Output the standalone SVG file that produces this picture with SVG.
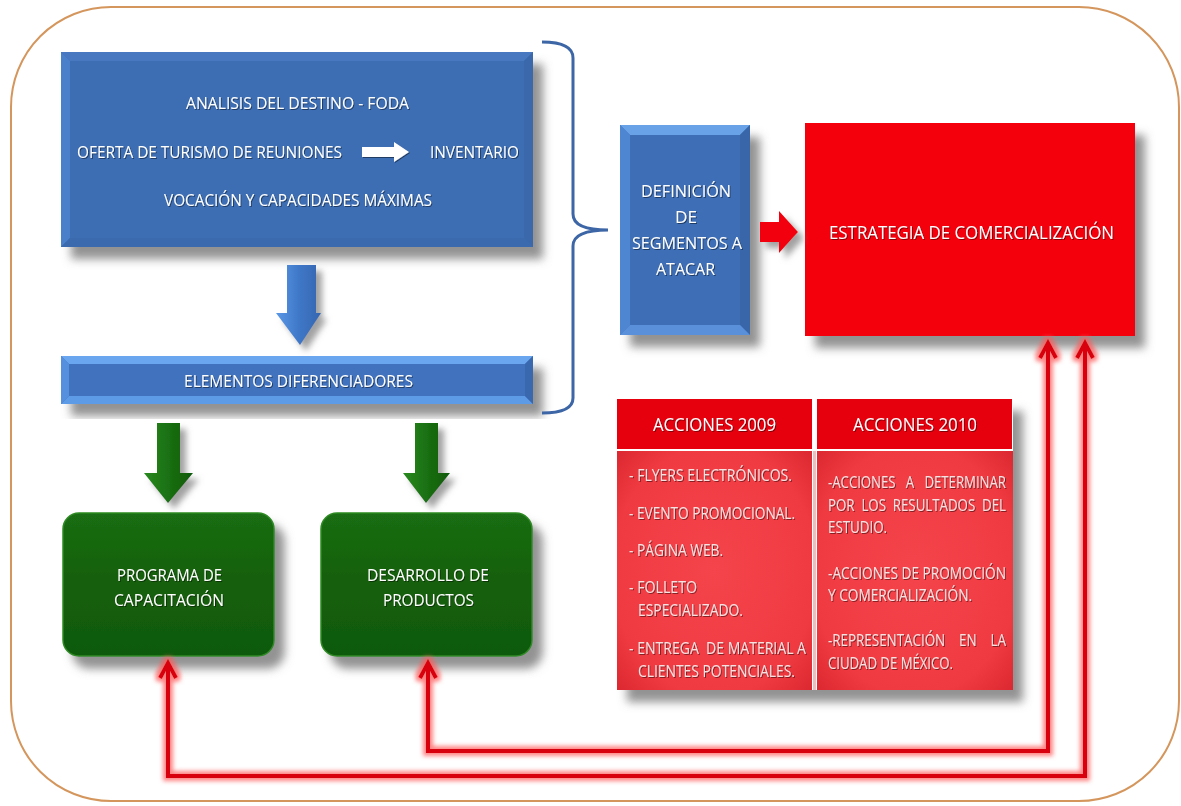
<svg xmlns="http://www.w3.org/2000/svg" width="1181" height="806" viewBox="0 0 1181 806">
  <defs>
    <style>
      .t { font-family: "Open Sans", "Liberation Sans", sans-serif; fill: #FFFFFF; }
      .tb { font-family: "Open Sans", "Liberation Sans", sans-serif; fill: #F7E2E2; font-size: 16px; }
      .pre { white-space: pre; }
      .link { fill: none; stroke: #D8000C; stroke-width: 4; stroke-linejoin: miter; }
    </style>
    <filter id="shadow" x="-10%" y="-10%" width="130%" height="140%">
      <feDropShadow dx="10" dy="12" stdDeviation="5" flood-color="#6E6E6E" flood-opacity="0.75"/>
    </filter>
    <filter id="smallShadow" x="-30%" y="-20%" width="170%" height="150%">
      <feDropShadow dx="6" dy="6" stdDeviation="3" flood-color="#7A7A7A" flood-opacity="0.7"/>
    </filter>
    <filter id="textShadow" x="-5%" y="-20%" width="110%" height="150%">
      <feDropShadow dx="1" dy="1" stdDeviation="0.6" flood-color="#000000" flood-opacity="0.45"/>
    </filter>
    <filter id="glow" x="-5%" y="-5%" width="110%" height="110%">
      <feMorphology in="SourceAlpha" operator="dilate" radius="2.5" result="wide"/>
      <feFlood flood-color="#FF5A5A" flood-opacity="0.75"/>
      <feComposite operator="in" in2="wide"/>
      <feGaussianBlur stdDeviation="2"/>
      <feMerge>
        <feMergeNode/>
        <feMergeNode in="SourceGraphic"/>
      </feMerge>
    </filter>
    <marker id="chev" markerUnits="userSpaceOnUse" markerWidth="30" markerHeight="30" refX="0" refY="0" viewBox="-20 -15 30 30" orient="auto-start-reverse" overflow="visible">
      <path d="M-15,-8 L0,0 L-15,8" fill="none" stroke="#D8000C" stroke-width="4"/>
    </marker>
    <linearGradient id="blueArrow" x1="0" y1="0" x2="1" y2="0">
      <stop offset="0" stop-color="#5A98E6"/>
      <stop offset="0.5" stop-color="#3F78C8"/>
      <stop offset="1" stop-color="#3566B0"/>
    </linearGradient>
    <linearGradient id="greenArrow" x1="0" y1="0" x2="1" y2="0">
      <stop offset="0" stop-color="#2A8A1E"/>
      <stop offset="0.5" stop-color="#1A7012"/>
      <stop offset="1" stop-color="#0F5A0A"/>
    </linearGradient>
    <linearGradient id="greenBox" x1="0" y1="0" x2="0" y2="1">
      <stop offset="0" stop-color="#1A6E12"/>
      <stop offset="0.5" stop-color="#155F0E"/>
      <stop offset="1" stop-color="#0F5A0A"/>
    </linearGradient>
    <radialGradient id="pinkBody" cx="0.5" cy="0.5" r="0.7">
      <stop offset="0" stop-color="#F5444B"/>
      <stop offset="0.75" stop-color="#F03A42"/>
      <stop offset="1" stop-color="#DC2830"/>
    </radialGradient>
  </defs>

  <rect width="1181" height="806" fill="#FFFFFF"/>

  <!-- outer frame -->
  <rect id="frame" x="11" y="7" width="1168" height="794" rx="100" ry="100" fill="none" stroke="#D4965C" stroke-width="2"/>

  <!-- destination analysis block -->
  <g id="analisis">
    <g filter="url(#shadow)">
      <rect x="61" y="52" width="472" height="195" fill="#3E6EB4"/>
    </g>
    <polygon points="61,52 533,52 524,61 70,61" fill="#4878C0"/>
    <polygon points="61,52 70,61 70,238 61,247" fill="#4A7FCA"/>
    <polygon points="533,52 533,247 524,238 524,61" fill="#3A68AA"/>
    <polygon points="61,247 533,247 524,238 70,238" fill="#3B6AAE"/>
    <g filter="url(#textShadow)">
      <text class="t" x="186" y="109" font-size="17" textLength="223" lengthAdjust="spacingAndGlyphs">ANALISIS DEL DESTINO - FODA</text>
      <text class="t" x="77" y="158" font-size="17" textLength="265" lengthAdjust="spacingAndGlyphs">OFERTA DE TURISMO DE REUNIONES</text>
      <polygon points="362,147 394,147 394,142 409,152 394,162 394,157 362,157" fill="#FFFFFF"/>
      <text class="t" x="430" y="158" font-size="17" textLength="89" lengthAdjust="spacingAndGlyphs">INVENTARIO</text>
      <text class="t" x="164" y="206" font-size="17" textLength="268" lengthAdjust="spacingAndGlyphs">VOCACIÓN Y CAPACIDADES MÁXIMAS</text>
    </g>
  </g>

  <!-- differentiating elements bar -->
  <g id="elementos">
    <g filter="url(#shadow)">
      <rect x="61" y="356" width="472" height="48" fill="#3F72BE"/>
    </g>
    <polygon points="61,356 533,356 525,364 69,364" fill="#6AA6F0"/>
    <polygon points="61,404 533,404 525,396 69,396" fill="#5E9BE6"/>
    <polygon points="61,356 69,364 69,396 61,404" fill="#5590DE"/>
    <polygon points="533,356 525,364 525,396 533,404" fill="#3A68AE"/>
    <text class="t" x="184" y="387" font-size="17" textLength="229" lengthAdjust="spacingAndGlyphs" filter="url(#textShadow)">ELEMENTOS DIFERENCIADORES</text>
  </g>

  <!-- segment definition block -->
  <g id="definicion">
    <g filter="url(#shadow)">
      <rect x="620" y="125" width="130" height="210" fill="#3C6EB6"/>
    </g>
    <polygon points="620,125 750,125 740,135 630,135" fill="#6AA2E8"/>
    <polygon points="620,125 630,135 630,325 620,335" fill="#4E86D2"/>
    <polygon points="750,125 750,335 740,325 740,135" fill="#3866A8"/>
    <polygon points="620,335 750,335 740,325 630,325" fill="#5A90DA"/>
    <g filter="url(#textShadow)">
      <text class="t" x="641" y="197" font-size="17" textLength="90" lengthAdjust="spacingAndGlyphs">DEFINICIÓN</text>
      <text class="t" x="675" y="223" font-size="17" textLength="22" lengthAdjust="spacingAndGlyphs">DE</text>
      <text class="t" x="632" y="249" font-size="17" textLength="110" lengthAdjust="spacingAndGlyphs">SEGMENTOS A</text>
      <text class="t" x="656" y="275" font-size="17" textLength="59" lengthAdjust="spacingAndGlyphs">ATACAR</text>
    </g>
  </g>

  <!-- commercialisation strategy -->
  <g id="estrategia">
    <g filter="url(#shadow)">
      <rect x="805" y="123" width="330" height="213" fill="#F40008"/>
    </g>
    <text class="t" x="829" y="239" font-size="18" fill="#F6E8E8" textLength="285" lengthAdjust="spacingAndGlyphs" filter="url(#textShadow)">ESTRATEGIA DE COMERCIALIZACIÓN</text>
  </g>

  <!-- actions table -->
  <g id="acciones">
    <g filter="url(#shadow)">
      <rect x="617" y="399" width="396" height="291" fill="#F03A42"/>
    </g>
    <rect x="617" y="399" width="396" height="291" fill="#FFFFFF"/>
    <rect x="617" y="399" width="195" height="50" fill="#E6000E"/>
    <rect x="817" y="399" width="195" height="50" fill="#E6000E"/>
    <rect x="617" y="451" width="195" height="239" fill="url(#pinkBody)"/>
    <rect x="817" y="451" width="196" height="239" fill="url(#pinkBody)"/>
    <line x1="814.5" y1="451" x2="814.5" y2="690" stroke="#E8C0C0" stroke-width="3"/>
    <g filter="url(#textShadow)">
      <text class="t" x="653" y="431" font-size="18" textLength="123" lengthAdjust="spacingAndGlyphs">ACCIONES 2009</text>
      <text class="t" x="853" y="431" font-size="18" textLength="124" lengthAdjust="spacingAndGlyphs">ACCIONES 2010</text>

      <text class="tb" x="629" y="481" textLength="163" lengthAdjust="spacingAndGlyphs">- FLYERS ELECTRÓNICOS.</text>
      <text class="tb" x="629" y="519" textLength="166" lengthAdjust="spacingAndGlyphs">- EVENTO PROMOCIONAL.</text>
      <text class="tb" x="629" y="556" textLength="94" lengthAdjust="spacingAndGlyphs">- PÁGINA WEB.</text>
      <text class="tb" x="629" y="593" textLength="68" lengthAdjust="spacingAndGlyphs">- FOLLETO</text>
      <text class="tb" x="638" y="616" textLength="105" lengthAdjust="spacingAndGlyphs">ESPECIALIZADO.</text>
      <text class="tb pre" x="629" y="654" textLength="177" lengthAdjust="spacingAndGlyphs">- ENTREGA  DE MATERIAL A</text>
      <text class="tb" x="638" y="677" textLength="157" lengthAdjust="spacingAndGlyphs">CLIENTES POTENCIALES.</text>

      <!-- justified lines keep their wider word gaps -->
      <text class="tb pre" x="828" y="488" textLength="178" lengthAdjust="spacingAndGlyphs">-ACCIONES   A   DETERMINAR</text>
      <text class="tb pre" x="828" y="511" textLength="178" lengthAdjust="spacingAndGlyphs">POR  LOS  RESULTADOS  DEL</text>
      <text class="tb" x="828" y="533" textLength="59" lengthAdjust="spacingAndGlyphs">ESTUDIO.</text>
      <text class="tb" x="828" y="579" textLength="178" lengthAdjust="spacingAndGlyphs">-ACCIONES DE PROMOCIÓN</text>
      <text class="tb" x="828" y="601" textLength="144" lengthAdjust="spacingAndGlyphs">Y COMERCIALIZACIÓN.</text>
      <text class="tb pre" x="828" y="646" textLength="178" lengthAdjust="spacingAndGlyphs">-REPRESENTACIÓN    EN    LA</text>
      <text class="tb" x="828" y="669" textLength="125" lengthAdjust="spacingAndGlyphs">CIUDAD DE MÉXICO.</text>
    </g>
  </g>

  <!-- training programme -->
  <g id="programa">
    <g filter="url(#shadow)">
      <rect x="63" y="513" width="211" height="143" rx="16" ry="16" fill="url(#greenBox)" stroke="#2E8A24" stroke-width="1.5"/>
    </g>
    <g filter="url(#textShadow)">
      <text class="t" x="117" y="581" font-size="17" textLength="105" lengthAdjust="spacingAndGlyphs">PROGRAMA DE</text>
      <text class="t" x="114" y="606" font-size="17" textLength="110" lengthAdjust="spacingAndGlyphs">CAPACITACIÓN</text>
    </g>
  </g>

  <!-- product development -->
  <g id="desarrollo">
    <g filter="url(#shadow)">
      <rect x="321" y="513" width="211" height="143" rx="16" ry="16" fill="url(#greenBox)" stroke="#2E8A24" stroke-width="1.5"/>
    </g>
    <g filter="url(#textShadow)">
      <text class="t" x="367" y="581" font-size="17" textLength="122" lengthAdjust="spacingAndGlyphs">DESARROLLO DE</text>
      <text class="t" x="383" y="606" font-size="17" textLength="91" lengthAdjust="spacingAndGlyphs">PRODUCTOS</text>
    </g>
  </g>

  <!-- connectors -->
  <g id="connectors">
    <polygon filter="url(#smallShadow)" points="287,265 316,265 316,313 321,313 300,345 276,313 287,313" fill="url(#blueArrow)"/>
    <polygon filter="url(#smallShadow)" points="157,423 180,423 180,473 193,473 168,503 144,473 157,473" fill="url(#greenArrow)"/>
    <polygon filter="url(#smallShadow)" points="415,423 438,423 438,473 450,473 426,503 403,473 415,473" fill="url(#greenArrow)"/>
    <polygon filter="url(#smallShadow)" points="760,222 779,222 779,211 798,232 779,253 779,242 760,242" fill="#F20008"/>
    <path d="M542,42 Q573,42 573,58 V214 Q573,230 608,230 Q573,230 573,246 V398 Q573,413 542,413" fill="none" stroke="#3D66A6" stroke-width="3"/>
    <g filter="url(#glow)">
      <path class="link" d="M428,663 V751 H1048 V343" marker-start="url(#chev)" marker-end="url(#chev)"/>
      <path class="link" d="M168,663 V776 H1085 V343" marker-start="url(#chev)" marker-end="url(#chev)"/>
    </g>
  </g>
</svg>
